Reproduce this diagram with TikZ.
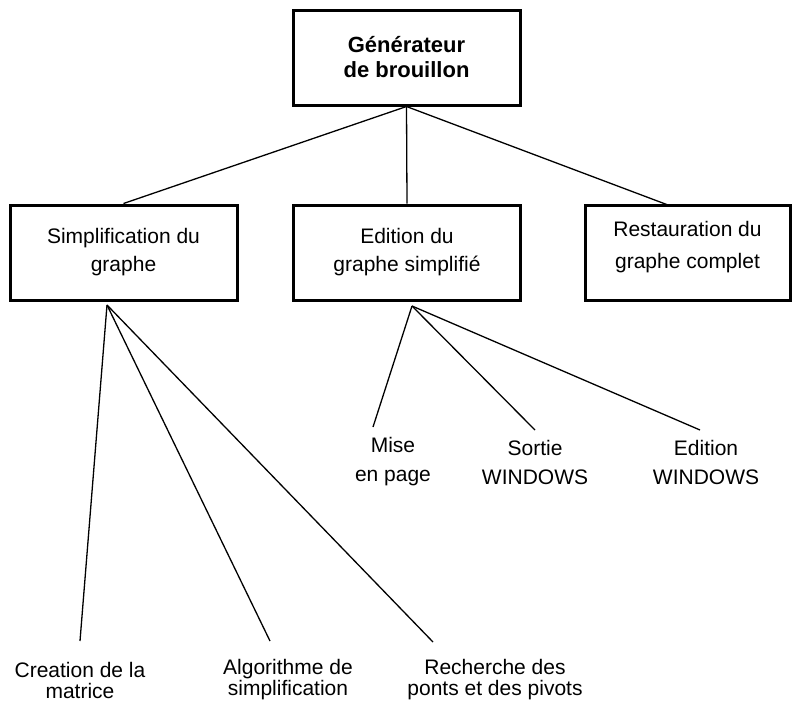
\documentclass[tikz,border=0pt]{standalone}
\usepackage{fontspec}
\setmainfont{Liberation Sans}
\begin{document}
\begin{tikzpicture}[x=1pt, y=-1pt,
      box/.style={rectangle, draw=black, line width=3pt, minimum width=227pt, minimum height=95pt, align=center, inner sep=0pt, font=\fontsize{21}{28}\selectfont},
      leaf/.style={align=center, inner sep=0pt, font=\fontsize{21}{21}\selectfont},
      link/.style={line width=1.3pt, color=black}
    ]
      \useasboundingbox (0,0) rectangle (799,702);

      % Top: root box
      \node[box, font=\bfseries\fontsize{22}{25}\selectfont] (gen) at (406.5, 57.5) {G\'en\'erateur\\de brouillon};

      % Middle row: modules
      \node[box] (simp) at (123.5, 252.5) {Simplification du\\graphe};
      \node[box] (edit) at (407, 252.5) {Edition du\\graphe simplifi\'e};
      \node[box, minimum width=205pt, text depth=16pt, font=\fontsize{21}{32}\selectfont] (rest) at (687.5, 252.5) {Restauration du\\graphe complet};

      % Bottom rows: sub-tasks
      \node[leaf, font=\fontsize{21}{29}\selectfont] (mise) at (393, 462) {Mise\\en page};
      \node[leaf, font=\fontsize{21}{29}\selectfont] (sortie) at (535, 462) {Sortie\\WINDOWS};
      \node[leaf, font=\fontsize{21}{29}\selectfont] (editwin) at (706, 462) {Edition\\WINDOWS};
      \node[leaf] (creat) at (80, 680) {Creation de la\\matrice};
      \node[leaf] (algo) at (288, 680) {Algorithme de\\simplification};
      \node[leaf] (rech) at (495, 680) {Recherche des\\ponts et des pivots};

      % Connector ends
      \coordinate (rest_top) at (668, 205);
      \coordinate (simp_foot) at (107, 305);
      \coordinate (edit_foot) at (412, 306);
      \coordinate (creat_tip) at (80, 641);
      \coordinate (algo_tip) at (270, 641);
      \coordinate (rech_tip) at (433, 642);
      \coordinate (mise_tip) at (373, 427);
      \coordinate (sortie_tip) at (535, 430);
      \coordinate (editwin_tip) at (700, 430);

      % Tree links
      \draw[link] (gen.south) -- (simp.north);
      \draw[link] (gen.south) -- (edit.north);
      \draw[link] (gen.south) -- (rest_top);
      \draw[link] (simp_foot) -- (creat_tip);
      \draw[link] (simp_foot) -- (algo_tip);
      \draw[link] (simp_foot) -- (rech_tip);
      \draw[link] (edit_foot) -- (mise_tip);
      \draw[link] (edit_foot) -- (sortie_tip);
      \draw[link] (edit_foot) -- (editwin_tip);
    \end{tikzpicture}
\end{document}
